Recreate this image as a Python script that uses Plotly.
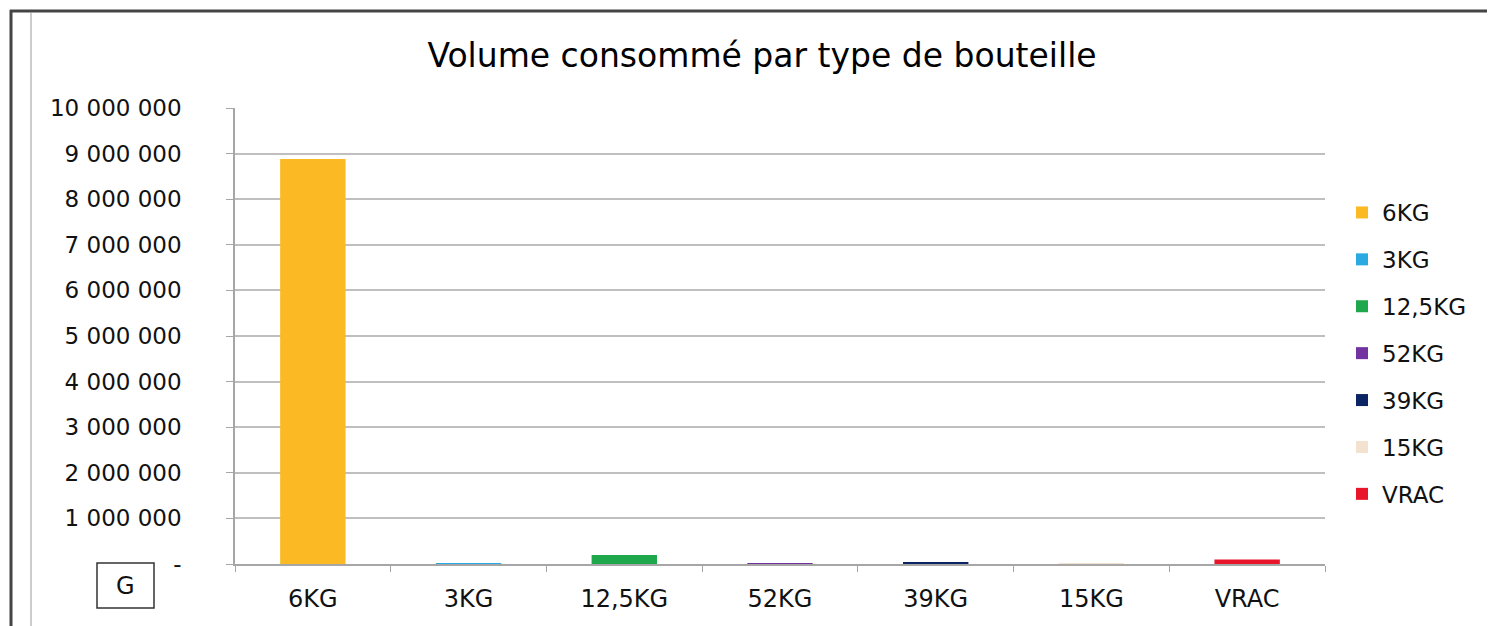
import plotly.graph_objects as go

categories = ["6KG", "3KG", "12,5KG", "52KG", "39KG", "15KG", "VRAC"]
values = [8880000, 15000, 200000, 20000, 30000, 5000, 100000]
colors = ["#FBB924", "#2AAAE1", "#1EA84B", "#7232A0", "#0B2463", "#F3E2CF", "#E8152B"]
y_tick_vals = [0, 1000000, 2000000, 3000000, 4000000, 5000000, 6000000, 7000000, 8000000, 9000000, 10000000]
y_tick_text = ["-", "1 000 000", "2 000 000", "3 000 000", "4 000 000", "5 000 000",
               "6 000 000", "7 000 000", "8 000 000", "9 000 000", "10 000 000"]

W, H = 1495, 626
OFF = 8  # page body margin
# target plot area in page pixels: x 235..1325, y 108..564
L, T = 235 - OFF, 108 - OFF
R = W - (1325 - OFF)
B = H - (564 - OFF)
PW, PH = W - L - R, H - T - B

def px(x):  # page pixel -> paper
    return (x - OFF - L) / PW

def py(y):
    return (H - B - (y - OFF)) / PH

fig = go.Figure()
for c, v, col in zip(categories, values, colors):
    fig.add_trace(go.Bar(x=[c], y=[v], name=c, marker=dict(color=col, line=dict(width=0)),
                         width=0.42, legendgroup=c))

FONT = "DejaVu Sans"
fig.update_layout(
    width=W, height=H,
    margin=dict(l=L, r=R, t=T, b=B, autoexpand=False),
    paper_bgcolor="white", plot_bgcolor="white",
    barmode="overlay",
    font=dict(family=FONT, color="#111111", size=20),
    title=dict(text="Volume consommé par type de bouteille", x=(762 - OFF) / W, xanchor="center",
               y=1 - (55 - OFF) / H, yanchor="middle", font=dict(size=33, family=FONT, color="#000")),
    xaxis=dict(categoryorder="array", categoryarray=categories, showgrid=False,
               showline=True, linecolor="#A6A6A6", linewidth=1.5,
               ticks="outside", tickson="boundaries", ticklen=6, tickcolor="#A6A6A6",
               tickfont=dict(size=24), ticklabelstandoff=12),
    yaxis=dict(range=[0, 10000000], tickvals=y_tick_vals, ticktext=y_tick_text,
               showgrid=True, gridcolor="#BFBFBF", gridwidth=1.5,
               showline=True, linecolor="#A6A6A6", linewidth=1.5,
               ticks="outside", ticklen=7, tickcolor="#A6A6A6",
               tickfont=dict(size=23), ticklabelstandoff=40, zeroline=False),
    legend=dict(x=px(1342), xanchor="left", y=py(191), yanchor="top",
                font=dict(size=23), tracegroupgap=14, itemwidth=30,
                bgcolor="rgba(0,0,0,0)"),
    showlegend=True,
)

# outer frame lines
fig.add_shape(type="line", xref="paper", yref="paper", x0=px(10), x1=px(1503), y0=py(11), y1=py(11),
              line=dict(color="#444", width=3))
fig.add_shape(type="line", xref="paper", yref="paper", x0=px(11), x1=px(11), y0=py(10), y1=py(640),
              line=dict(color="#444", width=3))
fig.add_shape(type="line", xref="paper", yref="paper", x0=px(31), x1=px(31), y0=py(12), y1=py(640),
              line=dict(color="#999", width=1))
fig.add_shape(type="line", xref="paper", yref="paper", x0=px(1490), x1=px(1490), y0=py(16), y1=py(640),
              line=dict(color="#eee", width=1))
# "G" box
fig.add_shape(type="rect", xref="paper", yref="paper", x0=px(97), x1=px(154), y0=py(563), y1=py(608),
              line=dict(color="#333", width=1.5), fillcolor="white")
fig.add_annotation(text="G", xref="paper", yref="paper", x=px(125.5), y=py(586), showarrow=False,
                   font=dict(size=24, family=FONT, color="#111"), xanchor="center", yanchor="middle")

fig.write_html("out.html")
